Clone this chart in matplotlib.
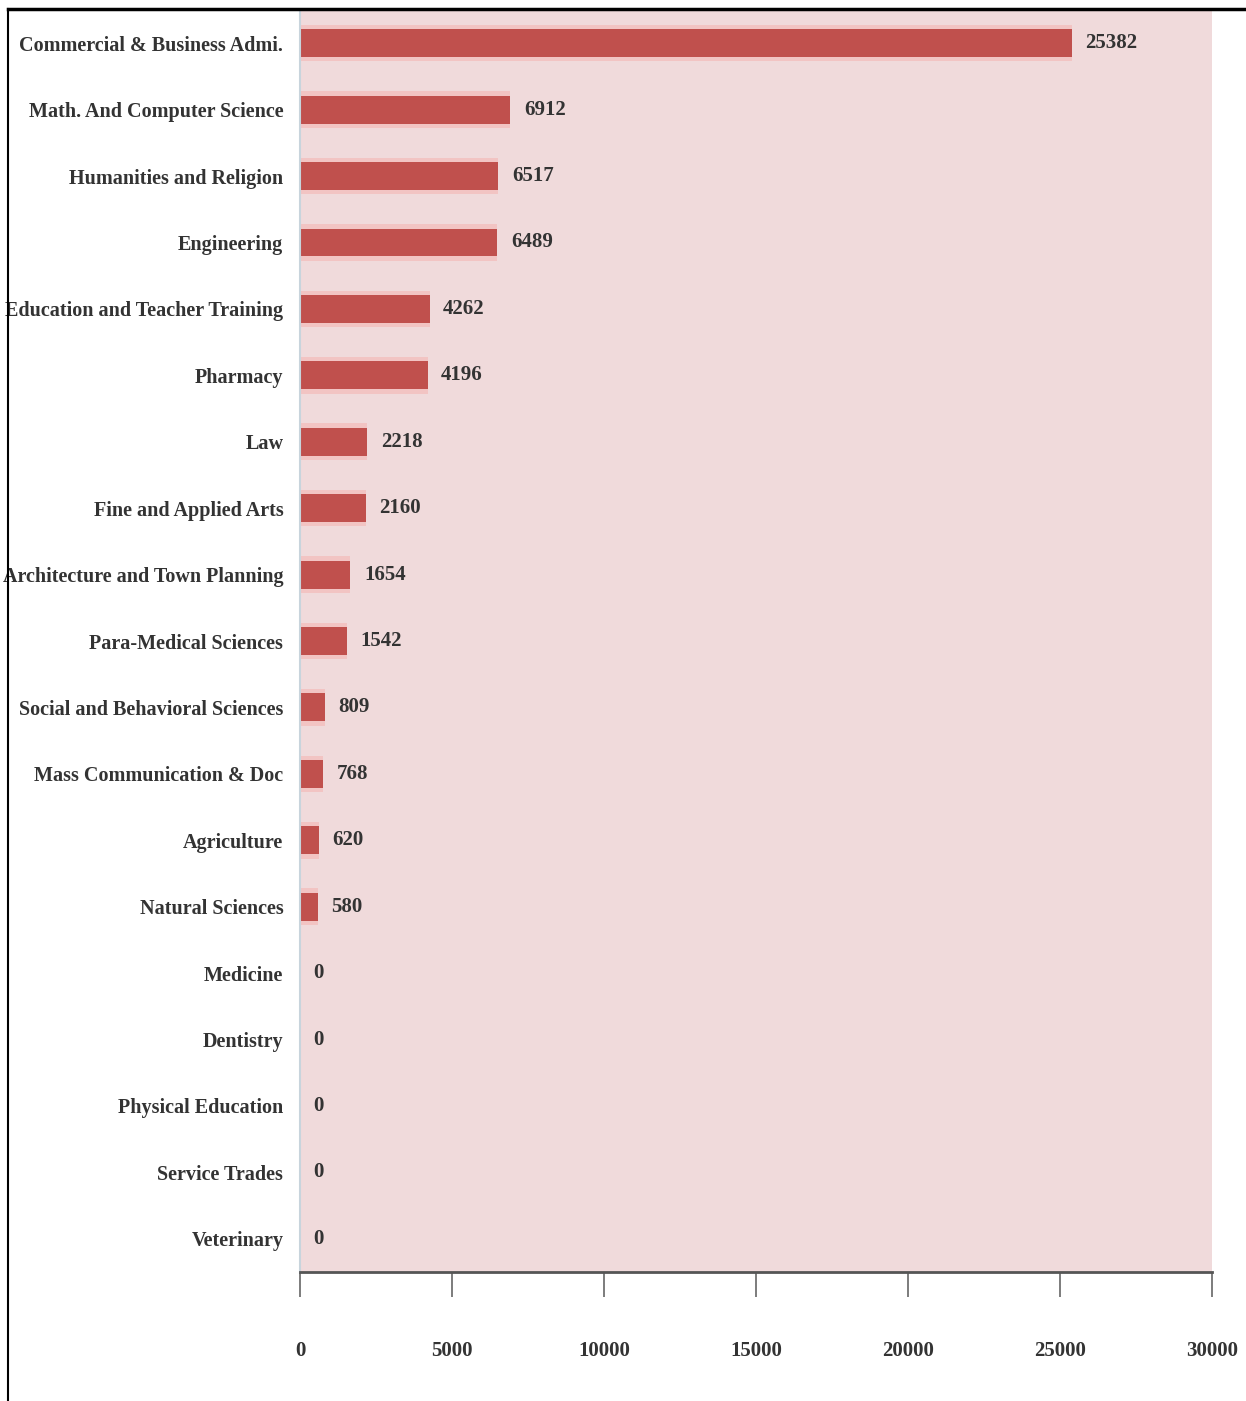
import matplotlib.pyplot as plt
import numpy as np
from matplotlib.lines import Line2D

# Data
categories = ['Commercial & Business Admi.', 'Math. And Computer Science', 'Humanities and Religion',
              'Engineering', 'Education and Teacher Training', 'Pharmacy', 'Law',
              'Fine and Applied Arts', 'Architecture and Town Planning', 'Para-Medical Sciences',
              'Social and Behavioral Sciences', 'Mass Communication & Doc', 'Agriculture',
              'Natural Sciences', 'Medicine', 'Dentistry', 'Physical Education',
              'Service Trades', 'Veterinary']
counts = [25382, 6912, 6517, 6489, 4262, 4196, 2218, 2160, 1654, 1542,
          809, 768, 620, 580, 0, 0, 0, 0, 0]
xticks = [0, 5000, 10000, 15000, 20000, 25000, 30000]

label_font = 'Liberation Serif'

fig = plt.figure(figsize=(12.46, 14.01), dpi=100)
ax = fig.add_axes([300/1246, 129/1401, 912/1246, 1262/1401])
ax.set_facecolor('#f0dadb')

y = np.arange(len(categories))
ax.barh(y, counts, height=0.55, color='#f2c4c3', zorder=1)
bars = ax.barh(y, counts, height=0.42, color='#c0504d', zorder=2)

for rect, v in zip(bars, counts):
    ax.text(rect.get_width() + 450, rect.get_y() + rect.get_height() / 2, f'{v}',
            va='center', ha='left', fontsize=15, fontweight='bold',
            family=label_font, color='#333333')

ax.set_yticks(y)
ax.set_yticklabels(categories, fontsize=14.5, fontweight='bold',
                   family=label_font, color='#333333')
ax.set_ylim(len(categories) - 0.5, -0.5)
ax.set_xlim(0, 30000)
ax.set_xticks(xticks)
ax.set_xticklabels([str(t) for t in xticks], fontsize=15, family=label_font,
                   fontweight='bold', color='#333333')
ax.tick_params(axis='y', length=0, pad=12)
ax.tick_params(axis='x', length=18, width=1.2, color='#666666', pad=32)

for side in ['top', 'right']:
    ax.spines[side].set_visible(False)
ax.spines['left'].set_color('#c8d4dc')
ax.spines['left'].set_linewidth(1.5)
ax.spines['bottom'].set_color('#555555')
ax.spines['bottom'].set_linewidth(2)

# screenshot border lines
fig.add_artist(Line2D([8/1246, 1], [1 - 9/1401, 1 - 9/1401], color='black', lw=2.5,
                      transform=fig.transFigure))
fig.add_artist(Line2D([8/1246, 8/1246], [0, 1 - 9/1401], color='black', lw=1.5,
                      transform=fig.transFigure))

fig.savefig('out.png', dpi=100)
